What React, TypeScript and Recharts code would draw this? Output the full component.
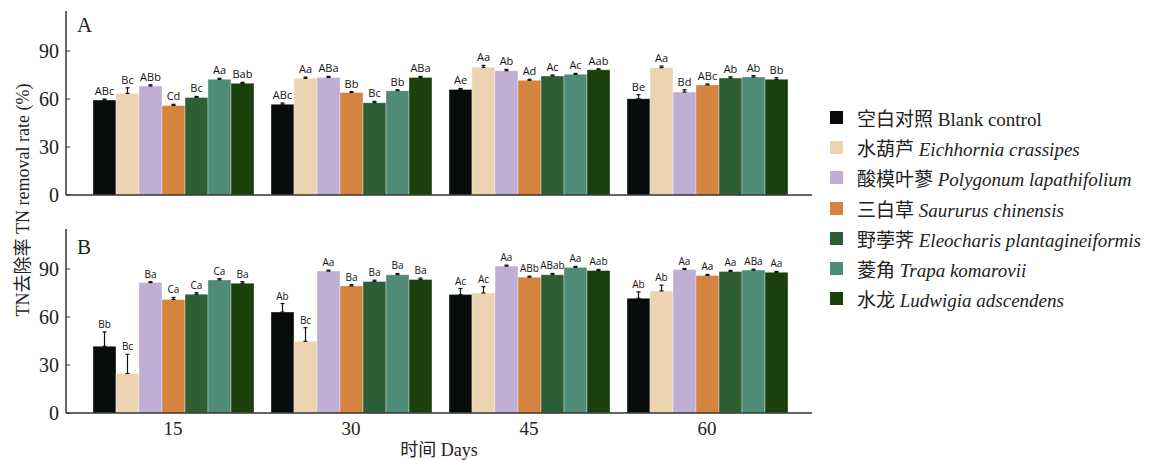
import { BarChart, Bar, XAxis, YAxis, ErrorBar, LabelList } from 'recharts';

const days = ['15', '30', '45', '60'];

const speciesCn = ['空白对照', '水葫芦', '酸模叶蓼', '三白草', '野荸荠', '菱角', '水龙'];
const speciesLatin = [
  'Blank control',
  'Eichhornia crassipes',
  'Polygonum lapathifolium',
  'Saururus chinensis',
  'Eleocharis plantagineiformis',
  'Trapa komarovii',
  'Ludwigia adscendens',
];
const colors = ['#070b0b', '#ecd3b2', '#c0aed4', '#d4843e', '#2d5e35', '#4f8c78', '#1c3f0e'];

const yTicks = [0, 30, 60, 90];

// A: rows = days, columns = species
const topMeans = [
  [59.4, 63.5, 68.1, 56.0, 61.0, 72.3, 69.8],
  [56.7, 72.9, 73.5, 64.0, 57.7, 65.2, 73.5],
  [66.0, 79.8, 77.7, 71.7, 74.4, 75.4, 78.3],
  [60.2, 79.6, 64.4, 68.8, 73.1, 73.8, 72.3],
];
const topErr = [
  [0.6, 3.5, 0.8, 0.7, 0.6, 0.6, 0.6],
  [0.8, 0.8, 0.6, 0.6, 0.8, 0.6, 0.6],
  [0.6, 1.2, 0.8, 0.6, 0.6, 0.6, 0.6],
  [2.5, 1.0, 1.4, 0.6, 0.8, 0.8, 1.0],
];
const topLetters = [
  ['ABc', 'Bc', 'ABb', 'Cd', 'Bc', 'Aa', 'Bab'],
  ['ABc', 'Aa', 'ABa', 'Bb', 'Bc', 'Bb', 'ABa'],
  ['Ae', 'Aa', 'Ab', 'Ad', 'Ac', 'Ac', 'Aab'],
  ['Be', 'Aa', 'Bd', 'ABc', 'Ab', 'Ab', 'Bb'],
];

// B
const bottomMeans = [
  [41.7, 24.7, 81.5, 71.0, 74.2, 83.2, 81.1],
  [63.1, 44.8, 88.7, 79.4, 82.2, 86.4, 83.5],
  [74.0, 75.0, 91.8, 84.9, 86.4, 91.0, 89.1],
  [71.7, 76.3, 89.7, 86.0, 88.5, 89.3, 87.9],
];
const bottomErr = [
  [9.0, 12.0, 0.6, 1.2, 1.0, 0.8, 1.0],
  [5.3, 8.5, 0.6, 0.8, 0.8, 0.8, 0.8],
  [3.8, 4.0, 0.6, 0.6, 0.8, 0.6, 0.6],
  [4.0, 3.6, 0.6, 0.6, 0.6, 0.6, 0.6],
];
const bottomLetters = [
  ['Bb', 'Bc', 'Ba', 'Ca', 'Ca', 'Ca', 'Ba'],
  ['Ab', 'Bc', 'Aa', 'Ba', 'Ba', 'Ba', 'Ba'],
  ['Ac', 'Ac', 'Aa', 'ABb', 'ABab', 'Aa', 'Aab'],
  ['Ab', 'Ab', 'Aa', 'Aa', 'Aa', 'ABa', 'Aa'],
];

const Y_MAX = 115;
const PLOT_H = 184;
const PX_PER_UNIT = PLOT_H / Y_MAX;

const serif = "'Liberation Serif', 'Noto Sans CJK SC', serif";

function buildRows(means: number[][], errs: number[][], letters: string[][]) {
  return days.map((day, d) => {
    const row: Record<string, any> = { day };
    speciesCn.forEach((_, s) => {
      row[`v${s}`] = means[d][s];
      row[`e${s}`] = [0, errs[d][s]];
      row[`l${s}`] = letters[d][s];
    });
    return row;
  });
}

const topRows = buildRows(topMeans, topErr, topLetters);
const bottomRows = buildRows(bottomMeans, bottomErr, bottomLetters);

function makeLabel(errs: number[][], s: number, fontSize: number) {
  return (props: any) => {
    const { x, y, width, value, index } = props;
    const top = Number(y) - errs[index][s] * PX_PER_UNIT - 4;
    return (
      <text
        x={Number(x) + Number(width) / 2}
        y={top}
        textAnchor="middle"
        fontSize={fontSize}
        fontFamily="'Open Sans', sans-serif"
        fill="#111"
      >
        {value}
      </text>
    );
  };
}

function Panel({
  rows,
  errs,
  height,
  showX,
  labelSize,
}: {
  rows: any[];
  errs: number[][];
  height: number;
  showX: boolean;
  labelSize: number;
}) {
  return (
    <BarChart
      width={830}
      height={height}
      data={rows}
      margin={{ top: 11, right: 18, bottom: showX ? 0 : 14, left: 0 }}
      barCategoryGap={9}
      barGap={0}
    >
      <XAxis
        dataKey="day"
        height={showX ? 47 : 1}
        tick={showX ? { fill: '#222', fontSize: 19, fontFamily: serif } : false}
        tickLine={false}
        tickSize={0}
        tickMargin={9}
        padding={{ left: 18, right: 16 }}
        axisLine={{ stroke: '#333', strokeWidth: 1.5 }}
        label={
          showX
            ? {
                value: '时间 Days',
                position: 'insideBottom',
                offset: 4,
                fontSize: 18,
                fontFamily: serif,
                fill: '#222',
              }
            : undefined
        }
      />
      <YAxis
        width={66}
        domain={[0, Y_MAX]}
        ticks={yTicks}
        interval={0}
        tickSize={-4}
        tickMargin={11}
        tick={{ fill: '#222', fontSize: 20, fontFamily: serif }}
        tickLine={{ stroke: '#333' }}
        axisLine={{ stroke: '#333', strokeWidth: 1.5 }}
      />
      {speciesCn.map((name, s) => (
        <Bar
          key={name}
          dataKey={`v${s}`}
          name={name}
          fill={colors[s]}
          stroke="rgba(255,255,255,0.45)"
          strokeWidth={0.8}
          isAnimationActive={false}
        >
          <ErrorBar dataKey={`e${s}`} width={2} stroke="#111" strokeWidth={1.2} direction="y" />
          <LabelList dataKey={`l${s}`} content={makeLabel(errs, s, labelSize)} />
        </Bar>
      ))}
    </BarChart>
  );
}

export default function App() {
  return (
    <div style={{ position: 'absolute', left: 0, top: 0, width: 1161, height: 460, background: '#fff', overflow: 'hidden' }}>
      <div style={{ position: 'absolute', left: 0, top: 0 }}>
        <Panel rows={topRows} errs={topErr} height={210} showX={false} labelSize={11} />
      </div>
      <div style={{ position: 'absolute', left: 0, top: 218 }}>
        <Panel rows={bottomRows} errs={bottomErr} height={242} showX={true} labelSize={10} />
      </div>
      <svg
        width={1161}
        height={460}
        style={{ position: 'absolute', left: 0, top: 0, pointerEvents: 'none' }}
      >
        <text x={77} y={32} fontSize={21} fontFamily={serif} fill="#222">
          A
        </text>
        <text x={77} y={254} fontSize={21} fontFamily={serif} fill="#222">
          B
        </text>
        <text
          x={0}
          y={0}
          transform="translate(29,200) rotate(-90)"
          textAnchor="middle"
          fontSize={18}
          fontFamily={serif}
          fill="#222"
        >
          TN去除率 TN removal rate (%)
        </text>
      </svg>
      <div style={{ position: 'absolute', left: 830, top: 102, fontFamily: serif, fontSize: 19, color: '#222' }}>
        {speciesCn.map((name, s) => (
          <div key={name} style={{ display: 'flex', alignItems: 'center', height: 30.3, whiteSpace: 'nowrap' }}>
            <span style={{ display: 'inline-block', width: 13, height: 13, background: colors[s], marginRight: 14 }} />
            <span>
              {name} {s === 0 ? <span>{speciesLatin[s]}</span> : <i>{speciesLatin[s]}</i>}
            </span>
          </div>
        ))}
      </div>
    </div>
  );
}
